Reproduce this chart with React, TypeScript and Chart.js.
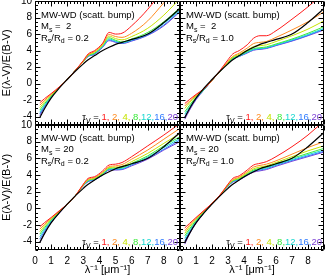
import React, { useEffect, useRef } from 'react';
import { Chart, registerables } from 'chart.js';
Chart.register(...registerables);

// ---------------- data ----------------
const X_GRID = [0.3, 0.6, 1, 1.5, 2, 2.5, 3, 3.3, 3.7, 4.2, 4.6, 5, 5.4, 6, 7, 8, 9];
const TAU_LABELS = ['1', '2', '4', '8', '12', '16', '20'];
const TAU_COLORS = ['#ff1a1a', '#ff8a1e', '#c6e400', '#3cea3c', '#19d8cf', '#2f7bff', '#7b3fd4'];
const MS_VALUES = [' 2', ' 2', '20', '20'];
const RATIO_VALUES = ['0.2', '1.0', '0.2', '1.0'];
const X_TICKS = [0, 1, 2, 3, 4, 5, 6, 7, 8];
const Y_TICKS = [-4, -2, 0, 2, 4, 6, 8, 10];

const BLACK_CURVE = [-4.1, -3.0, -1.75, -0.55, 0.5, 1.5, 2.4, 2.9, 3.4, 4.0, 4.4, 4.75, 5.0, 5.35, 6.0, 7.4, 9.1];

const TOP_LEFT_TAU = [
  [-2.3, -1.8, -1.2, -0.4, 0.5, 1.6, 2.8, 3.6, 4.0, 4.9, 6.2, 6.0, 6.1, 7.0, 9.0, 11.5, 14],
  [-2.6, -2.0, -1.3, -0.45, 0.5, 1.6, 2.75, 3.5, 3.9, 4.8, 5.95, 5.7, 5.6, 6.1, 7.6, 9.8, 12],
  [-2.9, -2.2, -1.4, -0.45, 0.5, 1.6, 2.7, 3.45, 3.8, 4.7, 5.75, 5.45, 5.3, 5.7, 6.7, 8.3, 10.3],
  [-3.2, -2.4, -1.5, -0.5, 0.5, 1.6, 2.7, 3.4, 3.7, 4.6, 5.55, 5.25, 5.05, 5.4, 6.2, 7.5, 9.2],
  [-3.45, -2.6, -1.55, -0.5, 0.5, 1.6, 2.7, 3.35, 3.65, 4.5, 5.4, 5.15, 4.95, 5.3, 6.0, 7.3, 8.9],
  [-3.65, -2.7, -1.6, -0.5, 0.5, 1.6, 2.7, 3.3, 3.6, 4.45, 5.3, 5.05, 4.9, 5.2, 5.9, 7.1, 8.8],
  [-3.85, -2.8, -1.65, -0.5, 0.5, 1.6, 2.7, 3.3, 3.55, 4.4, 5.2, 5.0, 4.85, 5.15, 5.85, 7.0, 8.7],
];

const TOP_RIGHT_TAU = [
  [-2.4, -1.9, -1.3, -0.6, 0.4, 1.6, 2.9, 3.6, 4.0, 4.7, 5.5, 5.8, 5.8, 6.4, 7.8, 9.3, 11],
  [-2.7, -2.1, -1.4, -0.65, 0.4, 1.5, 2.7, 3.3, 3.7, 4.3, 4.85, 5.0, 5.1, 5.6, 6.5, 7.5, 8.7],
  [-3.0, -2.3, -1.5, -0.65, 0.4, 1.5, 2.6, 3.2, 3.55, 4.05, 4.5, 4.6, 4.7, 5.1, 5.8, 6.6, 7.6],
  [-3.4, -2.6, -1.65, -0.7, 0.4, 1.5, 2.5, 3.1, 3.4, 3.9, 4.25, 4.35, 4.45, 4.8, 5.4, 6.1, 6.9],
  [-3.7, -2.8, -1.75, -0.7, 0.4, 1.5, 2.5, 3.05, 3.35, 3.8, 4.15, 4.25, 4.35, 4.7, 5.3, 5.95, 6.7],
  [-4.0, -3.0, -1.85, -0.75, 0.4, 1.5, 2.5, 3.0, 3.3, 3.75, 4.1, 4.2, 4.3, 4.65, 5.2, 5.85, 6.6],
  [-4.3, -3.2, -1.95, -0.75, 0.4, 1.5, 2.5, 3.0, 3.3, 3.7, 4.05, 4.15, 4.25, 4.6, 5.15, 5.8, 6.5],
];

const BOTTOM_LEFT_TAU = [
  [-2.2, -1.7, -1.1, -0.3, 0.5, 1.5, 2.9, 3.6, 3.8, 4.5, 5.2, 5.3, 5.5, 6.2, 7.5, 8.8, 10.2],
  [-2.5, -1.9, -1.2, -0.35, 0.5, 1.5, 2.85, 3.5, 3.7, 4.35, 5.0, 5.1, 5.25, 5.9, 7.0, 8.3, 9.6],
  [-2.8, -2.1, -1.3, -0.4, 0.5, 1.5, 2.8, 3.4, 3.6, 4.25, 4.9, 4.95, 5.05, 5.6, 6.6, 7.8, 9.0],
  [-3.1, -2.3, -1.4, -0.45, 0.5, 1.5, 2.8, 3.35, 3.55, 4.15, 4.8, 4.85, 4.9, 5.4, 6.3, 7.5, 8.6],
  [-3.4, -2.5, -1.5, -0.5, 0.5, 1.5, 2.75, 3.3, 3.5, 4.1, 4.7, 4.75, 4.8, 5.3, 6.15, 7.3, 8.4],
  [-3.7, -2.7, -1.6, -0.55, 0.5, 1.5, 2.75, 3.25, 3.45, 4.05, 4.65, 4.65, 4.7, 5.2, 6.0, 7.1, 8.2],
  [-4.1, -2.9, -1.7, -0.6, 0.5, 1.5, 2.7, 3.2, 3.4, 4.0, 4.6, 4.6, 4.65, 5.1, 5.9, 7.0, 8.0],
];

const BOTTOM_RIGHT_TAU = [
  [-2.35, -1.8, -1.1, -0.25, 0.6, 1.6, 2.9, 3.6, 3.9, 4.6, 5.2, 5.4, 5.6, 6.2, 7.4, 8.8, 10.5],
  [-2.7, -2.0, -1.2, -0.3, 0.6, 1.6, 2.85, 3.45, 3.75, 4.4, 4.95, 5.15, 5.3, 5.7, 6.5, 7.3, 8.0],
  [-3.0, -2.2, -1.3, -0.35, 0.6, 1.55, 2.8, 3.35, 3.65, 4.25, 4.75, 4.95, 5.1, 5.5, 6.2, 6.9, 7.5],
  [-3.3, -2.45, -1.45, -0.4, 0.6, 1.55, 2.75, 3.3, 3.55, 4.15, 4.6, 4.8, 4.95, 5.35, 6.0, 6.6, 7.2],
  [-3.6, -2.65, -1.55, -0.45, 0.6, 1.55, 2.7, 3.25, 3.5, 4.05, 4.5, 4.7, 4.85, 5.25, 5.85, 6.45, 7.0],
  [-3.9, -2.85, -1.65, -0.5, 0.6, 1.55, 2.7, 3.2, 3.45, 4.0, 4.45, 4.6, 4.75, 5.15, 5.75, 6.3, 6.85],
  [-4.3, -3.05, -1.8, -0.55, 0.6, 1.5, 2.65, 3.15, 3.4, 3.95, 4.35, 4.5, 4.65, 5.05, 5.65, 6.2, 6.75],
];

const PANEL_CURVES = [TOP_LEFT_TAU, TOP_RIGHT_TAU, BOTTOM_LEFT_TAU, BOTTOM_RIGHT_TAU];

// ---------------- layout ----------------
const W = 326;
const H = 280;
const OFF = 20;
const FONT = '"Liberation Sans", Arial, Helvetica, sans-serif';
const COL_X = [35, 180, 324];
const ROW_Y = [1, 125, 250];

type Part = { t: string; sub?: boolean; color?: string };

function drawRich(ctx: CanvasRenderingContext2D, x: number, y: number, parts: Part[], size: number, align: 'left' | 'right') {
  const fontFor = (p: Part) => `${p.sub ? Math.round(size * 0.72) : size}px ${FONT}`;
  let total = 0;
  for (const p of parts) {
    ctx.font = fontFor(p);
    total += ctx.measureText(p.t).width;
  }
  let cx = align === 'right' ? x - total : x;
  ctx.textAlign = 'left';
  ctx.textBaseline = 'alphabetic';
  for (const p of parts) {
    ctx.font = fontFor(p);
    ctx.fillStyle = p.color || '#000';
    ctx.fillText(p.t, cx, p.sub ? y + size * 0.28 : y);
    cx += ctx.measureText(p.t).width;
  }
}

function makeConfig(idx: number): any {
  const col = idx % 2;
  const row = Math.floor(idx / 2);
  const showY = col === 0;
  const showX = row === 1;
  const left = COL_X[col] + OFF;
  const right = COL_X[col + 1] + OFF;
  const top = ROW_Y[row] + OFF;
  const bottom = ROW_Y[row + 1] + OFF;
  const CW = W + 2 * OFF;
  const CH = H + 2 * OFF;
  const yWidth = showY ? 35 : 10;
  const xHeight = showX ? 30 : 0;

  const curves = PANEL_CURVES[idx];
  const datasets: any[] = [
    {
      label: 'MW-WD',
      data: X_GRID.map((x, i) => ({ x, y: BLACK_CURVE[i] })),
      borderColor: '#000',
      borderWidth: 1.2,
    },
    ...curves.map((arr, k) => ({
      label: 'tau ' + TAU_LABELS[k],
      data: X_GRID.map((x, i) => ({ x, y: arr[i] })),
      borderColor: TAU_COLORS[k],
      borderWidth: 1,
    })),
  ];

  const decor = {
    id: 'decor' + idx,
    afterDraw(chart: any) {
      const ctx: CanvasRenderingContext2D = chart.ctx;
      const a = chart.chartArea;
      const xs = chart.scales.x;
      const ys = chart.scales.y;
      ctx.save();
      ctx.strokeStyle = '#000';
      ctx.lineWidth = 1;
      ctx.beginPath();
      const L = Math.round(a.left) + 0.5;
      const R = Math.round(a.right) - 0.5;
      const T = Math.round(a.top) + 0.5;
      const B = Math.round(a.bottom) - 0.5;
      ctx.rect(L, T, R - L, B - T);
      for (let i = 0; i <= 45; i++) {
        const v = i * 0.2;
        const px = Math.round(xs.getPixelForValue(v)) + 0.5;
        const len = i % 5 === 0 ? 5 : 2.5;
        ctx.moveTo(px, T);
        ctx.lineTo(px, T + len);
        ctx.moveTo(px, B);
        ctx.lineTo(px, B - len);
      }
      for (let i = 0; i <= 30; i++) {
        const v = -5 + i * 0.5;
        const py = Math.round(ys.getPixelForValue(v)) + 0.5;
        const len = Math.abs(v % 2) < 1e-6 ? 5 : 2.5;
        ctx.moveTo(L, py);
        ctx.lineTo(L + len, py);
        ctx.moveTo(R, py);
        ctx.lineTo(R - len, py);
      }
      ctx.stroke();

      const tx = a.left + 6;
      const ty = a.top + (row === 0 ? 16.5 : 15.5);
      drawRich(ctx, tx, ty, [{ t: 'MW-WD (scatt. bump)' }], 9.5, 'left');
      drawRich(ctx, tx, ty + 11.5, [{ t: 'M' }, { t: 's', sub: true }, { t: ' = ' + MS_VALUES[idx] }], 9.5, 'left');
      drawRich(ctx, tx, ty + 23, [{ t: 'R' }, { t: 's', sub: true }, { t: '/R' }, { t: 'd', sub: true }, { t: ' = ' + RATIO_VALUES[idx] }], 9.5, 'left');

      const legendParts: Part[] = [{ t: 'τ' }, { t: 'V', sub: true }, { t: ' = ' }];
      TAU_LABELS.forEach((lab, k) => {
        let txt = lab;
        if (k < TAU_LABELS.length - 1) txt += k < 3 ? ', ' : ',';
        legendParts.push({ t: txt, color: TAU_COLORS[k] });
      });
      drawRich(ctx, a.right - 2, a.bottom - 5, legendParts, 9.5, 'right');
      ctx.restore();
    },
  };

  return {
    type: 'line',
    data: { datasets },
    plugins: [decor],
    options: {
      animation: false,
      responsive: false,
      maintainAspectRatio: false,
      layout: {
        padding: {
          left: left - yWidth,
          right: CW - right,
          top: top,
          bottom: CH - bottom - xHeight,
        },
      },
      elements: {
        point: { radius: 0 },
        line: { cubicInterpolationMode: 'monotone', fill: false },
      },
      plugins: {
        legend: { display: false },
        tooltip: { enabled: false },
      },
      scales: {
        x: {
          type: 'linear',
          min: 0,
          max: 9,
          afterFit: (s: any) => {
            s.height = xHeight;
          },
          afterBuildTicks: (s: any) => {
            s.ticks = X_TICKS.map((v) => ({ value: v }));
          },
          grid: { display: false, drawTicks: false },
          border: { display: false },
          ticks: {
            display: showX,
            padding: 5,
            maxRotation: 0,
            autoSkip: false,
            color: '#000',
            font: { family: FONT, size: 10 },
          },
          title: {
            display: showX,
            text: 'λ⁻¹ [μm⁻¹]',
            color: '#000',
            font: { family: FONT, size: 11 },
            padding: { top: 0, bottom: 3 },
          },
        },
        y: {
          type: 'linear',
          min: -5,
          max: 10,
          afterFit: (s: any) => {
            s.width = yWidth;
          },
          afterBuildTicks: (s: any) => {
            s.ticks = Y_TICKS.map((v) => ({ value: v }));
          },
          grid: { display: false, drawTicks: false },
          border: { display: false },
          ticks: {
            display: showY,
            padding: 3,
            autoSkip: false,
            color: '#000',
            font: { family: FONT, size: 10 },
          },
          title: {
            display: showY,
            text: 'E(λ-V)/E(B-V)',
            color: '#000',
            font: { family: FONT, size: 11 },
            padding: { top: 0, bottom: 0 },
          },
        },
      },
    },
  };
}

function Panel({ idx }: { idx: number }) {
  const ref = useRef<HTMLCanvasElement | null>(null);
  useEffect(() => {
    if (!ref.current) return;
    const chart = new Chart(ref.current, makeConfig(idx));
    return () => chart.destroy();
  }, [idx]);
  return (
    <canvas
      ref={ref}
      width={W + 2 * OFF}
      height={H + 2 * OFF}
      style={{ position: 'absolute', left: -OFF, top: -OFF, width: W + 2 * OFF, height: H + 2 * OFF }}
    />
  );
}

export default function App() {
  return (
    <div style={{ position: 'fixed', left: 0, top: 0, width: W, height: H, overflow: 'hidden', background: '#fff' }}>
      {[0, 1, 2, 3].map((i) => (
        <Panel key={i} idx={i} />
      ))}
    </div>
  );
}
